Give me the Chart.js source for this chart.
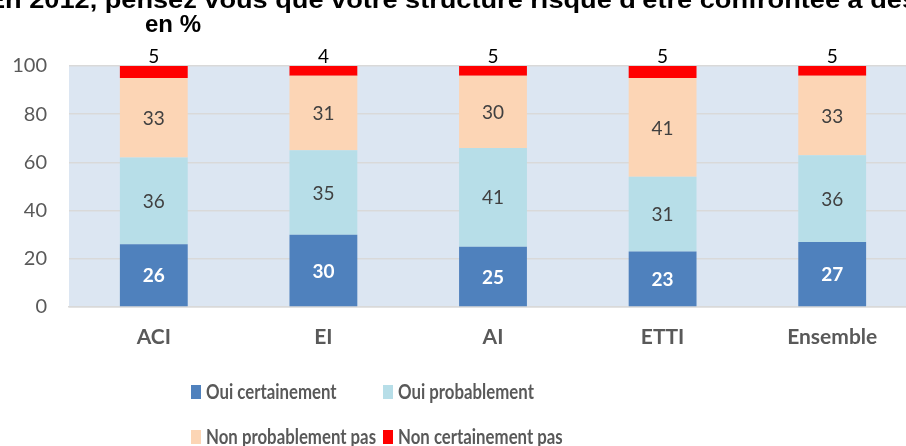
<!DOCTYPE html>
<html>
<head>
<meta charset="utf-8">
<script src="https://cdn.jsdelivr.net/npm/chart.js@4.4.1/dist/chart.umd.min.js"></script>
<style>
  html, body { margin: 0; padding: 0; overflow: hidden; background: #fff; }
  #wrap { width: 920px; height: 446px; }
</style>
</head>
<body>
<div id="wrap"><canvas id="chart" width="920" height="446"></canvas></div>
<script>
// données (en %)
const categories = ['ACI', 'EI', 'AI', 'ETTI', 'Ensemble'];
const ouiCertainement = [26, 30, 25, 23, 27];
const ouiProbablement = [36, 35, 41, 31, 36];
const nonProbablementPas = [33, 31, 30, 41, 33];
const nonCertainementPas = [5, 4, 5, 5, 5];
const yTicks = [0, 20, 40, 60, 80, 100];

const titleLine1 = "En 2012, pensez vous que votre structure risque d'être confrontée à des";
const titleLine2 = 'en %';

const FONT = 'Lato, "Open Sans", sans-serif';
const GREY = '#595959';

// fond bleuté de la zone de tracé + titre coupé en haut
const backgroundPlugin = {
    id: 'plotBackground',
    beforeDraw(chart) {
        const { ctx, chartArea } = chart;
        ctx.save();
        ctx.fillStyle = '#DCE6F2';
        ctx.fillRect(chartArea.left, chartArea.top, chartArea.right - chartArea.left, chartArea.bottom - chartArea.top);

        ctx.fillStyle = '#000';
        ctx.font = 'bold 24px "Liberation Sans", Arial, sans-serif';
        ctx.textBaseline = 'alphabetic';
        ctx.textAlign = 'center';
        // la première ligne déborde du cadre dans l'original
        const w = ctx.measureText(titleLine1).width;
        const sx = 930 / w;
        ctx.save();
        ctx.translate(452, 8);
        ctx.scale(sx, 1);
        ctx.fillText(titleLine1, 0, 0);
        ctx.restore();
        ctx.textAlign = 'left';
        ctx.fillText(titleLine2, 145, 32);
        ctx.restore();
    }
};

// étiquettes de valeurs (pas de plugin datalabels disponible)
const valueLabels = {
    id: 'valueLabels',
    afterDatasetsDraw(chart) {
        const { ctx, chartArea } = chart;
        ctx.save();
        ctx.textAlign = 'center';
        ctx.textBaseline = 'middle';
        chart.data.datasets.forEach((ds, i) => {
            const meta = chart.getDatasetMeta(i);
            meta.data.forEach((bar, j) => {
                const v = ds.data[j];
                if (i === 3) {
                    ctx.font = '19px ' + FONT;
                    ctx.fillStyle = '#000';
                    const top = Math.max(bar.y, chartArea.top);
                    ctx.fillText(v, bar.x, top - 9);
                } else {
                    ctx.font = (i === 0 ? 'bold ' : '') + '19px ' + FONT;
                    ctx.fillStyle = i === 0 ? '#fff' : '#404040';
                    ctx.fillText(v, bar.x, (bar.y + bar.base) / 2 + 1);
                }
            });
        });
        ctx.restore();
    }
};

// légende sur deux colonnes
const gridLegend = {
    id: 'gridLegend',
    afterDraw(chart) {
        const { ctx, chartArea } = chart;
        const colX = [chartArea.left + 122, chartArea.left + 314];
        const rowY = [392, 437];
        ctx.save();
        ctx.font = 'bold 20px ' + FONT;
        ctx.textBaseline = 'middle';
        ctx.textAlign = 'left';
        chart.data.datasets.forEach((ds, i) => {
            const x = colX[i % 2];
            const y = rowY[Math.floor(i / 2)];
            ctx.fillStyle = ds.backgroundColor;
            ctx.fillRect(x, y - 7, 10, 14);
            ctx.fillStyle = GREY;
            // texte un peu resserré, comme la police d'origine
            ctx.save();
            ctx.translate(x + 15, y + 1);
            ctx.scale(0.84, 1);
            ctx.fillText(ds.label, 0, 0);
            ctx.restore();
        });
        ctx.restore();
    }
};

const ctx = document.getElementById('chart').getContext('2d');
const myChart = new Chart(ctx, {
    type: 'bar',
    data: {
        labels: categories,
        datasets: [
            { label: 'Oui certainement', data: ouiCertainement, backgroundColor: '#4F81BD' },
            { label: 'Oui probablement', data: ouiProbablement, backgroundColor: '#B7DEE8' },
            { label: 'Non probablement pas', data: nonProbablementPas, backgroundColor: '#FCD5B5' },
            { label: 'Non certainement pas', data: nonCertainementPas, backgroundColor: '#FF0000' }
        ]
    },
    options: {
        responsive: false,
        animation: false,
        barPercentage: 0.4,
        categoryPercentage: 1,
        layout: { padding: { top: 66, right: 3, left: 0, bottom: 0 } },
        plugins: {
            legend: { display: false },
            tooltip: { enabled: false },
            title: { display: false }
        },
        scales: {
            x: {
                stacked: true,
                grid: { display: false, drawTicks: false },
                border: { color: '#D9D9D9', width: 1.5 },
                ticks: { color: GREY, font: { family: FONT, size: 21, weight: 'bold' }, padding: 18 },
                afterFit(scale) { scale.height = 446 - 307; }
            },
            y: {
                stacked: true,
                min: 0,
                max: 100,
                afterBuildTicks(scale) { scale.ticks = yTicks.map(v => ({ value: v })); },
                grid: { color: '#D9D9D9', lineWidth: 1.5, drawTicks: false },
                border: { display: false },
                ticks: { color: GREY, font: { family: FONT, size: 20 }, padding: 22 },
                afterFit(scale) { scale.width = 69; }
            }
        }
    },
    plugins: [backgroundPlugin, valueLabels, gridLegend]
});
</script>
</body>
</html>
